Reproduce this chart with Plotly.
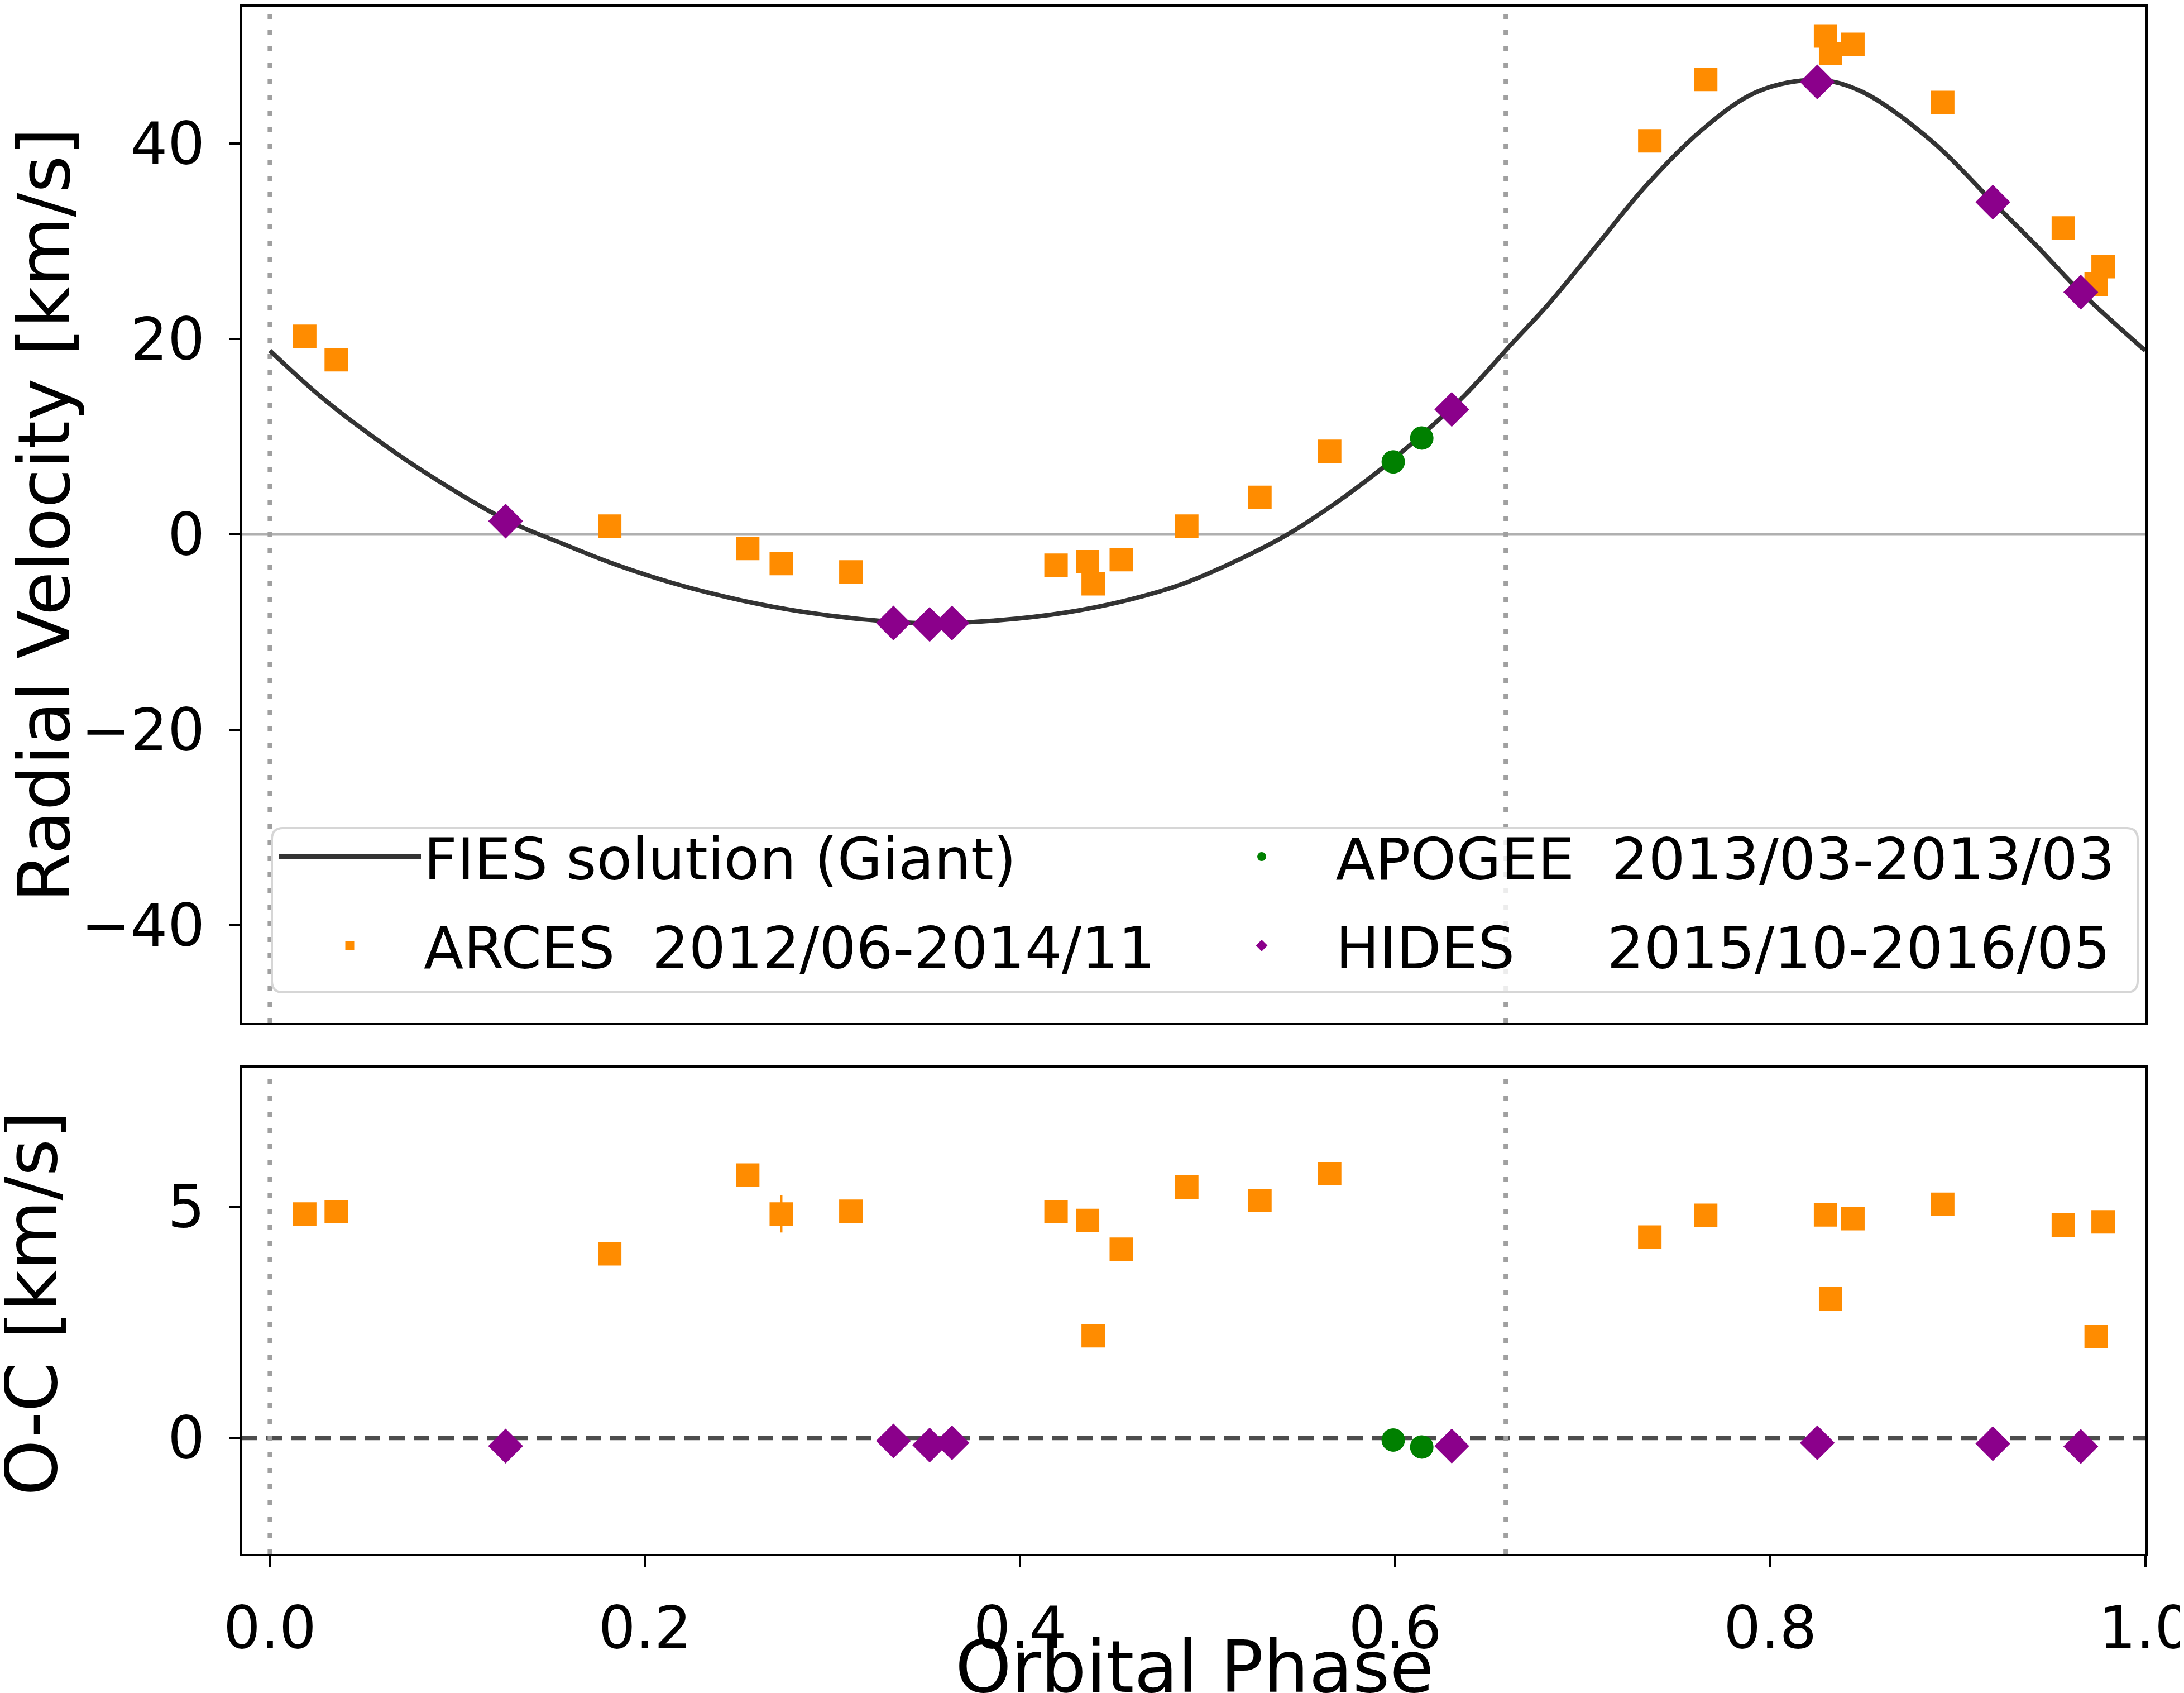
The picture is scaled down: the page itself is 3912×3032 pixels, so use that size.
#!/usr/bin/env python3
"""
Phase-folded radial velocity curve with O-C residuals (ARCES / APOGEE / HIDES)
"""

import plotly.graph_objects as go
from plotly.subplots import make_subplots

# ---- data ----
# model curve (FIES solution, giant)
model_phase = [0.0, 0.0265, 0.0464, 0.0806, 0.1257, 0.1566, 0.1831, 0.2151, 0.2512,
               0.2850, 0.3197, 0.3539, 0.388, 0.4244, 0.4547, 0.4850, 0.5154, 0.5427,
               0.5686, 0.5913, 0.6141, 0.6368, 0.6624, 0.6815, 0.7076, 0.7336, 0.7634,
               0.7931, 0.8251, 0.8489, 0.886, 0.9188, 0.9418, 0.9656, 1.0]
model_rv = [18.8, 14.2, 11.2, 6.6, 1.5, -0.99, -3.0, -5.0, -6.75,
            -7.95, -8.75, -9.1, -8.8, -8.0, -6.85, -5.19, -2.70, 0.0,
            3.24, 6.5, 10.16, 14.17, 19.55, 23.5, 29.58, 35.64, 41.36,
            45.3, 46.5, 45.3, 40.27, 33.99, 29.58, 24.79, 18.8]

arces_phase = [0.0186, 0.0354, 0.1812, 0.2548, 0.2727, 0.3098, 0.4192, 0.436, 0.439,
               0.454, 0.4889, 0.5279, 0.5651, 0.7358, 0.7656, 0.8295, 0.8322, 0.8441,
               0.892, 0.9563, 0.9738, 0.9775]
arces_rv = [20.27, 17.87, 0.84, -1.44, -2.99, -3.84, -3.16, -2.8, -5.05,
            -2.58, 0.84, 3.79, 8.5, 40.27, 46.56, 51.0, 49.2, 50.15,
            44.2, 31.36, 25.6, 27.4]
arces_oc = [4.84, 4.89, 3.98, 5.68, 4.84, 4.90, 4.89, 4.70, 2.21,
            4.08, 5.42, 5.13, 5.71, 4.34, 4.81, 4.82, 3.01, 4.74,
            5.05, 4.60, 2.19, 4.67]
arces_err = [0.2, 0.2, 0.2, 0.2, 0.4, 0.2, 0.2, 0.2, 0.2,
             0.2, 0.2, 0.2, 0.2, 0.2, 0.2, 0.2, 0.2, 0.2,
             0.2, 0.2, 0.2, 0.2]

apogee_phase = [0.599, 0.6142]
apogee_rv = [7.42, 9.86]
apogee_oc = [-0.04, -0.19]
apogee_err = [0.1, 0.1]

hides_phase = [0.1257, 0.3325, 0.3518, 0.3637, 0.6302, 0.8251, 0.9187, 0.9656]
hides_rv = [1.36, -9.07, -9.21, -9.07, 12.79, 46.3, 34.0, 24.79]
hides_oc = [-0.17, -0.06, -0.15, -0.10, -0.17, -0.10, -0.12, -0.18]
hides_err = [0.1, 0.1, 0.1, 0.1, 0.1, 0.1, 0.1, 0.1]

# vertical reference phases (dotted)
ref_phases = [0.0, 0.659]

x_ticks = [0.0, 0.2, 0.4, 0.6, 0.8, 1.0]
x_ticktext = ['0.0', '0.2', '0.4', '0.6', '0.8', '1.0']
rv_ticks = [-40, -20, 0, 20, 40]
rv_ticktext = ['\u221240', '\u221220', '0', '20', '40']
oc_ticks = [0, 5]
oc_ticktext = ['0', '5']

ORANGE = '#ff8c00'
GREEN = '#008000'
PURPLE = '#8b008b'
FONT = 'DejaVu Sans'
W, H = 3912, 3032

fig = make_subplots(rows=2, cols=1, shared_xaxes=True)

# model curve
fig.add_trace(go.Scatter(
    x=model_phase, y=model_rv, mode='lines', line_shape='spline',
    line=dict(color='#333333', width=8),
    name='FIES solution (Giant)', legend='legend', legendgroup='a'
), row=1, col=1)


def add_set(phase, rv, oc, err, color, symbol, size, name, legend, group):
    err_style = dict(type='data', array=err, color=color, thickness=4, width=0)
    fig.add_trace(go.Scatter(
        x=phase, y=rv, mode='markers', name=name,
        marker=dict(color=color, symbol=symbol, size=size, line=dict(width=0)),
        error_y=err_style, legend=legend, legendgroup=group
    ), row=1, col=1)
    fig.add_trace(go.Scatter(
        x=phase, y=oc, mode='markers', name=name, showlegend=False,
        marker=dict(color=color, symbol=symbol, size=size, line=dict(width=0)),
        error_y=err_style, legendgroup=group
    ), row=2, col=1)


add_set(arces_phase, arces_rv, arces_oc, arces_err, ORANGE, 'square', 42,
        'ARCES\u00a0\u00a02012/06-2014/11', 'legend', 'b')
add_set(apogee_phase, apogee_rv, apogee_oc, apogee_err, GREEN, 'circle', 42,
        'APOGEE\u00a0\u00a02013/03-2013/03', 'legend2', 'c')
add_set(hides_phase, hides_rv, hides_oc, hides_err, PURPLE, 'diamond', 48,
        'HIDES\u00a0\u00a0\u00a0\u00a0\u00a02015/10-2016/05', 'legend2', 'd')

# reference lines
fig.add_hline(y=0, line=dict(color='#b0b0b0', width=5), layer='below', row=1, col=1)
fig.add_hline(y=0, line=dict(color='#4d4d4d', width=7.5, dash='28px,16px'), layer='below', row=2, col=1)
for ph in ref_phases:
    for r in (1, 2):
        fig.add_vline(x=ph, line=dict(color='#a0a0a0', width=8, dash='9px,20px'),
                      layer='below', row=r, col=1)

# legend frame (rounded, semi-transparent white)
lx0, lx1 = 479 / W, 3821 / W
ly0, ly1 = 1 - 1769 / H, 1 - 1475 / H
rx, ry = 20 / W, 20 / H
frame = (f'M{lx0 + rx},{ly1} L{lx1 - rx},{ly1} Q{lx1},{ly1} {lx1},{ly1 - ry} '
         f'L{lx1},{ly0 + ry} Q{lx1},{ly0} {lx1 - rx},{ly0} L{lx0 + rx},{ly0} '
         f'Q{lx0},{ly0} {lx0},{ly0 + ry} L{lx0},{ly1 - ry} Q{lx0},{ly1} {lx0 + rx},{ly1} Z')
fig.add_shape(type='path', path=frame, xref='paper', yref='paper', layer='above',
              fillcolor='rgba(255,255,255,0.8)', line=dict(color='#d6d6d6', width=4))

x_dom = [425 / W, 3835 / W]
axis_common = dict(showline=True, linecolor='black', linewidth=4, mirror=True,
                   showgrid=False, zeroline=False, ticks='outside', ticklen=19,
                   tickwidth=4, tickcolor='black', automargin=False,
                   ticklabeloverflow='allow',
                   tickfont=dict(family=FONT, size=105, color='black'))

legend_common = dict(xanchor='left', y=1 - 1452 / H, yanchor='top',
                     bgcolor='rgba(0,0,0,0)', borderwidth=0, itemwidth=255,
                     tracegroupgap=21, font=dict(family=FONT, size=104))

fig.update_layout(
    width=W, height=H,
    margin=dict(l=0, r=0, t=0, b=0),
    plot_bgcolor='white', paper_bgcolor='white',
    font=dict(family=FONT, size=104, color='black'),
    xaxis=dict(axis_common, domain=x_dom, range=[-0.015, 1.0001], showticklabels=False,
               ticks='', tickvals=x_ticks),
    yaxis=dict(axis_common, domain=[1 - 1824 / H, 1 - 4 / H], range=[-50, 54],
               tickvals=rv_ticks, ticktext=rv_ticktext, ticklabelstandoff=22),
    xaxis2=dict(axis_common, domain=x_dom, range=[-0.015, 1.0001],
                tickvals=x_ticks, ticktext=x_ticktext, ticklabelstandoff=20),
    yaxis2=dict(axis_common, domain=[1 - 2775 / H, 1 - 1904 / H], range=[-2.5, 8],
                tickvals=oc_ticks, ticktext=oc_ticktext, ticklabelstandoff=22),
    showlegend=True,
    legend=dict(legend_common, x=486 / W),
    legend2=dict(legend_common, x=2119.5 / W),
    annotations=[
        dict(text='Radial Velocity [km/s]', x=72 / W, y=1 - 915 / H, xref='paper', yref='paper',
             textangle=-90, showarrow=False, xanchor='center', yanchor='middle',
             font=dict(family=FONT, size=128)),
        dict(text='O-C [km/s]', x=48 / W, y=1 - 2327 / H, xref='paper', yref='paper',
             textangle=-90, showarrow=False, xanchor='center', yanchor='middle',
             font=dict(family=FONT, size=128)),
        dict(text='Orbital Phase', x=2131 / W, y=1 - 2977 / H, xref='paper', yref='paper',
             showarrow=False, xanchor='center', yanchor='middle',
             font=dict(family=FONT, size=128)),
    ],
)

fig.write_html('out.html')
print('saved out.html')
